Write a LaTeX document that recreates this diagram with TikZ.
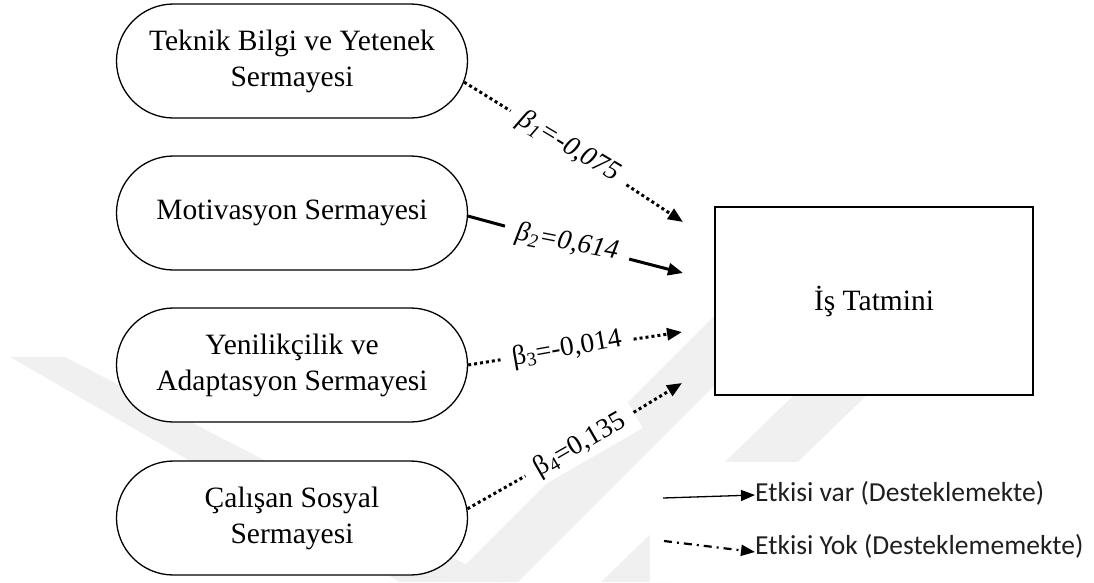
\documentclass[tikz,border=0pt]{standalone}
\usepackage{fontspec}
\setmainfont{Liberation Serif}
\newfontfamily\legendfont{Carlito}
\usetikzlibrary{shapes.misc,arrows.meta}
\begin{document}
\begin{tikzpicture}[x=1pt,y=-1pt,
  capital/.style={rounded rectangle, draw, line width=1.3pt, fill=white,
    minimum width=351pt, minimum height=114pt, align=center, inner sep=0pt,
    font=\fontsize{29.5}{36}\selectfont},
  outcome/.style={rectangle, draw, line width=1.6pt, fill=white,
    minimum width=318pt, minimum height=188pt, font=\fontsize{29.5}{36}\selectfont},
  coef/.style={fill=white, font=\fontsize{27.5}{30}\selectfont,
    inner xsep=12pt, inner ysep=4pt, outer sep=0pt},
  tip/.style={-{Triangle[length=15pt,width=12pt]}},
  nosig/.style={tip, line width=3pt, dash pattern=on 3pt off 3pt},
  sig/.style={tip, line width=3pt},
  legendtip/.style={-{Triangle[length=14pt,width=11pt]}},
  legendtext/.style={anchor=west, inner sep=0pt, text=black!88,
    font=\legendfont\fontsize{27.5}{30}\selectfont},
  wm/.style={fill=black!6, draw=none}
]
\useasboundingbox (0,0) rectangle (1094,582);

% faint background bands
\fill[wm] (10,357) -- (65,357) -- (500,582) -- (400,582) -- cycle;
\fill[wm] (448,582) -- (518,582) -- (800,300) -- (730,300) -- cycle;
\fill[wm] (601,582) -- (674,582) -- (965,300) -- (892,300) -- cycle;
\fill[white] (650,462) rectangle (1094,582);

% independent variables
\node[capital] (n1) at (292,61)  {Teknik Bilgi ve Yetenek\\Sermayesi};
\node[capital] (n2) at (292,213) {Motivasyon Sermayesi};
\node[capital] (n3) at (292,365) {Yenilikçilik ve\\Adaptasyon Sermayesi};
\node[capital] (n4) at (292,518) {Çalışan Sosyal\\Sermayesi};

% dependent variable
\node[outcome] (is) at (874,301) {İş Tatmini};

% coefficients
\node[coef, rotate=-31] (b1) at (569,147) {\itshape β\textsubscript{1}=-0,075};
\node[coef, rotate=-11] (b2) at (567,243) {\itshape β\textsubscript{2}=0,614};
\node[coef, rotate=10]  (b3) at (567,349) {β\textsubscript{3}=-0,014};
\node[coef, rotate=30]  (b4) at (580,445) {β\textsubscript{4}=0,135};

% arrow ends in front of the outcome box
\coordinate (t1) at (683,222);
\coordinate (t2) at (683,273);
\coordinate (t3) at (682,332);
\coordinate (t4) at (682,383);

\draw[nosig] (n1.-7) -- (b1) -- (t1);
\draw[sig]   (n2.-1) -- (b2) -- (t2);
\draw[nosig] (n3.0)  -- (b3) -- (t3);
\draw[nosig] (n4.3)  -- (b4) -- (t4);

% legend
\node[legendtext] (lg1) at (755,493) {Etkisi var (Desteklemekte)};
\node[legendtext] (lg2) at (755,546) {Etkisi Yok (Desteklememekte)};
\coordinate (s1) at (663,498);
\coordinate (s2) at (664,541);
\draw[line width=1.3pt, legendtip] (s1) -- ([yshift=-2pt]lg1.west);
\draw[line width=2.2pt, dash pattern=on 8pt off 5pt on 2pt off 5pt, legendtip]
  (s2) -- ([yshift=-6pt]lg2.west);
\end{tikzpicture}
\end{document}
